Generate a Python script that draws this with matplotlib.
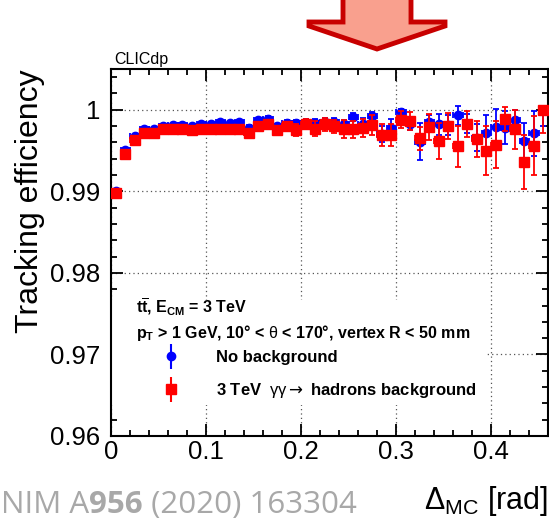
import numpy as np
import matplotlib
matplotlib.use("Agg")
import matplotlib.pyplot as plt
from matplotlib.patches import Polygon, Rectangle
from matplotlib.lines import Line2D
from matplotlib.ticker import MultipleLocator

plt.rcParams['font.family'] = ['Liberation Sans', 'DejaVu Sans']
plt.rcParams['mathtext.fontset'] = 'custom'
plt.rcParams['mathtext.rm'] = 'Liberation Sans'
plt.rcParams['mathtext.it'] = 'Liberation Sans:italic'
plt.rcParams['mathtext.bf'] = 'Liberation Sans:bold'
plt.rcParams['mathtext.sf'] = 'DejaVu Sans'

# bin centres of Delta_MC [rad], bin width 0.01
delta_mc = [0.005, 0.015, 0.025, 0.035, 0.045, 0.055, 0.065, 0.075, 0.085, 0.095,
            0.105, 0.115, 0.125, 0.135, 0.145, 0.155, 0.165, 0.175, 0.185, 0.195,
            0.205, 0.215, 0.225, 0.235, 0.245, 0.255, 0.265, 0.275, 0.285, 0.295,
            0.305, 0.315, 0.325, 0.335, 0.345, 0.355, 0.365, 0.375, 0.385, 0.395,
            0.405, 0.415, 0.425, 0.435, 0.445, 0.455]
bin_half_width = 0.005

# no background
eff_nobkg = [0.9901, 0.9951, 0.9968, 0.9976, 0.9976, 0.9980, 0.9981, 0.9981, 0.9980, 0.9983,
             0.9983, 0.9985, 0.9984, 0.9985, 0.9978, 0.9987, 0.9989, 0.9980, 0.9984, 0.9984,
             0.9984, 0.9984, 0.9985, 0.9985, 0.9983, 0.9991, 0.9983, 0.9992, 0.9970, 0.9978,
             0.9997, 0.9983, 0.9961, 0.9985, 0.9982, 0.9981, 0.9993, 0.9983, 0.9966, 0.9971,
             0.9979, 0.9978, 0.9988, 0.9962, 0.9971, 1.0000]
err_nobkg = [0.0001, 0.0001, 0.0001, 0.0001, 0.0001, 0.00015, 0.00015, 0.00015, 0.00015, 0.00015,
             0.00015, 0.00015, 0.00015, 0.00015, 0.0003, 0.0003, 0.0003, 0.0003, 0.0003, 0.0003,
             0.0005, 0.0005, 0.0005, 0.0005, 0.0005, 0.0005, 0.0007, 0.0005, 0.0010, 0.0011,
             0.0004, 0.0008, 0.0023, 0.0009, 0.0013, 0.0012, 0.0012, 0.0012, 0.0016, 0.0022,
             0.0022, 0.0020, 0.0012, 0.0022, 0.0028, 0.0020]
err_nobkg_up = err_nobkg[:-1] + [0.0]

# 3 TeV gamma gamma -> hadrons background
eff_bkg = [0.9898, 0.9946, 0.9963, 0.9971, 0.9971, 0.9976, 0.9977, 0.9977, 0.9975, 0.9977,
           0.9977, 0.9977, 0.9977, 0.9977, 0.9971, 0.9980, 0.9982, 0.9975, 0.9980, 0.9975,
           0.9983, 0.9977, 0.9982, 0.9980, 0.9976, 0.9976, 0.9978, 0.9981, 0.9969, 0.9969,
           0.9988, 0.9986, 0.9965, 0.9979, 0.9962, 0.9980, 0.9955, 0.9983, 0.9964, 0.9950,
           0.9957, 0.9989, 0.9976, 0.9936, 0.9956, 1.0000]
err_bkg = [0.0001, 0.0001, 0.00015, 0.00015, 0.00015, 0.0002, 0.0002, 0.0002, 0.0002, 0.00025,
           0.00025, 0.0003, 0.0003, 0.0003, 0.0004, 0.0004, 0.0004, 0.0005, 0.0005, 0.0007,
           0.0006, 0.0009, 0.0008, 0.0008, 0.0011, 0.0010, 0.0011, 0.0012, 0.0013, 0.0014,
           0.0010, 0.0011, 0.0014, 0.0016, 0.0022, 0.0016, 0.0025, 0.0016, 0.0022, 0.0030,
           0.0029, 0.0015, 0.0024, 0.0033, 0.0036, 0.0029]
err_bkg_up = err_bkg[:-1] + [0.0]

xticks = [0, 0.1, 0.2, 0.3, 0.4]
xtick_labels = ['0', '0.1', '0.2', '0.3', '0.4']
yticks = [0.96, 0.97, 0.98, 0.99, 1.0]
ytick_labels = ['0.96', '0.97', '0.98', '0.99', '1']

W, H = 549, 523
fig = plt.figure(figsize=(W / 100, H / 100), dpi=100)
ax = fig.add_axes([111 / W, 1 - 436 / H, 437 / W, 367 / H])

ax.errorbar(delta_mc, eff_nobkg, xerr=bin_half_width, yerr=[err_nobkg, err_nobkg_up],
            fmt='o', color='blue', ms=6, capsize=2.5, elinewidth=1.3, capthick=1.3, zorder=3)
ax.errorbar(delta_mc, eff_bkg, xerr=bin_half_width, yerr=[err_bkg, err_bkg_up],
            fmt='s', color='red', ms=6.5, capsize=2.5, elinewidth=1.3, capthick=1.3, zorder=4)

ax.set_xlim(0, 0.46)
ax.set_ylim(0.96, 1.005)
ax.set_xticks(xticks, xtick_labels)
ax.set_yticks(yticks, ytick_labels)
ax.xaxis.set_minor_locator(MultipleLocator(0.02))
ax.yaxis.set_minor_locator(MultipleLocator(0.002))
ax.tick_params(which='both', direction='in', top=True, right=True, width=1.3, labelsize=18.5)
ax.tick_params(which='major', length=8.5)
ax.tick_params(which='minor', length=4.5)
ax.tick_params(axis='y', pad=8)
ax.tick_params(axis='x', pad=3)
for s in ax.spines.values():
    s.set_linewidth(1.5)
ax.set_axisbelow(True)
ax.grid(True, which='major', color='#555555', linestyle=(0, (1, 2.5)), linewidth=0.9)

# white legend pad covering the grid
ax.add_patch(Rectangle((0, 0.084), 0.86, 0.287, transform=ax.transAxes,
                       facecolor='white', edgecolor='none', zorder=1))

ax.text(0.057, 0.335, r'$\mathbf{t\overline{t}}$, $\mathbf{E_{CM}}$ = 3 TeV', transform=ax.transAxes,
        fontsize=11.5, fontweight='bold', va='baseline', zorder=5)
ax.text(0.057, 0.267, r'$\mathbf{p_{T}}$ > 1 GeV, 10° < $\mathrm{\theta}$ < 170°, vertex R < 50 mm',
        transform=ax.transAxes, fontsize=11.5, fontweight='bold', va='baseline', zorder=5)

h_blue = (Line2D([], [], marker='|', ms=18, mew=1.5, color='blue', ls='none'),
          Line2D([], [], marker='o', ms=6, color='blue', ls='none'))
h_red = (Line2D([], [], marker='|', ms=18, mew=1.5, color='red', ls='none'),
         Line2D([], [], marker='s', ms=6.5, color='red', ls='none'))
leg = ax.legend([h_blue, h_red],
                ['No background', r'3 TeV  $\mathrm{\gamma\gamma}\mathsf{\rightarrow}$ hadrons background'],
                loc='upper left', bbox_to_anchor=(0.0995, 0.234), frameon=False,
                prop={'weight': 'bold', 'size': 12}, handlelength=2, handletextpad=1.7,
                labelspacing=0.95, borderpad=0, borderaxespad=0)
leg.set_zorder(6)

# axis titles
fig.text(30 / W, 1 - 69 / H, 'Tracking efficiency', rotation=90, ha='center', va='top', fontsize=23)
fig.text(548 / W, 1 - 509 / H, r'$\Delta_{\rm MC}$ [rad]', ha='right', va='baseline', fontsize=22)
fig.text(114 / W, 1 - 64 / H, 'CLICdp', fontsize=11.5, va='baseline')

# reference
t1 = fig.text(1 / W, 1 - 513 / H, 'NIM A', fontsize=22.5, color='#a8a8a8', family='Open Sans',
              va='baseline')
t2 = ax.annotate('956', xy=(1, 0), xycoords=t1, va='bottom', ha='left', fontsize=22.5,
                 color='#a8a8a8', family='Open Sans', fontweight='bold', annotation_clip=False)
ax.annotate(' (2020) 163304', xy=(1, 0), xycoords=t2, va='bottom', ha='left', fontsize=22.5,
            color='#a8a8a8', family='Open Sans', annotation_clip=False)

# big arrow at the top
pts = [(343, -10), (343, 22), (309, 22), (309, 26), (377, 49), (445, 26), (445, 22), (411, 22), (411, -10)]
fig.add_artist(Polygon([(px / W, 1 - py / H) for px, py in pts], closed=True,
                       transform=fig.transFigure, facecolor='#f9a08e', edgecolor='#c80000',
                       linewidth=3.5, joinstyle='miter'))

fig.savefig('out.png', dpi=100)
